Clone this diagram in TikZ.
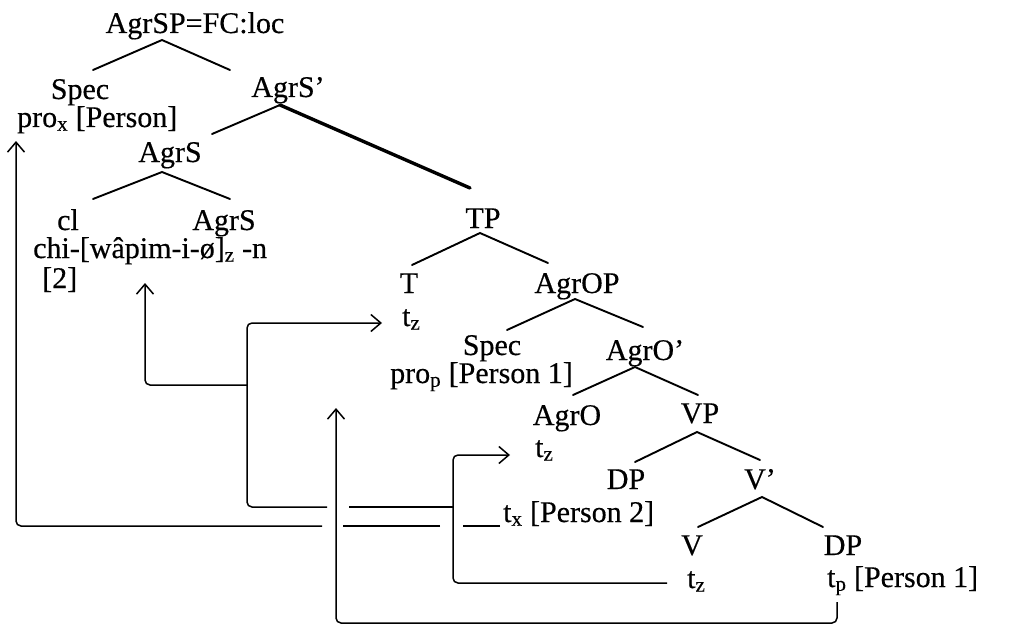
\documentclass[tikz,border=0pt]{standalone}
\usepackage{fontspec}
\setmainfont{Liberation Serif}[FakeBold=0.4]
\usetikzlibrary{arrows.meta,calc}
\begin{document}
\begin{tikzpicture}[x=1pt,y=-1pt,
  every node/.style={font=\fontsize{30}{34}\selectfont, inner sep=0pt},
  cat/.style={anchor=base},
  lft/.style={anchor=base west},
  branch/.style={line width=1.9pt, line cap=round},
  heavy/.style={line width=3.4pt, line cap=round},
  mv/.style={line width=1.5pt, rounded corners=5pt},
  tip/.style={-{Straight Barb[length=10pt,width=17pt]}}]
\useasboundingbox (0,0) rectangle (1013,626);
% tree labels
\node[cat] (agrsp) at (195,33) {AgrSP=FC:loc};
\node[cat] (spec1) at (80,99) {Spec};
\node[lft] (prox) at (17,127) {pro\textsubscript{x} [Person]};
\node[cat] (agrsbar) at (288,97) {AgrS’};
\node[cat] (agrs1) at (170,162) {AgrS};
\node[cat] (cl) at (68,230) {cl};
\node[cat] (agrs2) at (224,230) {AgrS};
\node[lft] (chi) at (33,258) {chi-[wâpim-i-ø]\textsubscript{z} -n};
\node[lft] (two) at (42,288) {[2]};
\node[cat] (tp) at (483,228) {TP};
\node[cat] (t) at (409,293) {T};
\node[lft] (tzT) at (402,326) {t\textsubscript{z}};
\node[cat] (agrop) at (577,293) {AgrOP};
\node[cat] (spec2) at (492,355) {Spec};
\node[lft] (prop) at (390,383) {pro\textsubscript{p} [Person 1]};
\node[cat] (agrobar) at (645,360) {AgrO’};
\node[cat] (agro) at (567,425) {AgrO};
\node[lft] (tzO) at (535,457) {t\textsubscript{z}};
\node[cat] (vp) at (700,423) {VP};
\node[cat] (dp1) at (626,489) {DP};
\node[cat] (vbar) at (760,489) {V’};
\node[lft] (tx) at (503,522) {t\textsubscript{x} [Person 2]};
\node[cat] (v) at (692,555) {V};
\node[cat] (dp2) at (843,555) {DP};
\node[lft] (tzV) at (687,588) {t\textsubscript{z}};
\node[lft] (tp1) at (827,587) {t\textsubscript{p} [Person 1]};
% branches
\draw[branch] ([shift={(13,-29)}]spec1.base) -- ([shift={(-33,7)}]agrsp.base) -- ([shift={(-58,-27)}]agrsbar.base);
\draw[branch] ([shift={(42,-28)}]agrs1.base) -- ([shift={(-8,8)}]agrsbar.base);
\draw[heavy] ([shift={(-8,8)}]agrsbar.base) -- ([shift={(-13,-40)}]tp.base);
\draw[branch] ([shift={(25,-31)}]cl.base) -- ([shift={(-8,10)}]agrs1.base) -- ([shift={(6,-31)}]agrs2.base);
\draw[branch] ([shift={(3,-28)}]t.base) -- ([shift={(-3,5)}]tp.base) -- ([shift={(-29,-30)}]agrop.base);
\draw[branch] ([shift={(15,-25)}]spec2.base) -- ([shift={(-2,6)}]agrop.base) -- ([shift={(-2,-33)}]agrobar.base);
\draw[branch] ([shift={(6,-30)}]agro.base) -- ([shift={(-10,7)}]agrobar.base) -- ([shift={(-2,-28)}]vp.base);
\draw[branch] ([shift={(9,-27)}]dp1.base) -- ([shift={(-3,9)}]vp.base) -- ([shift={(0,-29)}]vbar.base);
\draw[branch] ([shift={(6,-28)}]v.base) -- ([shift={(2,8)}]vbar.base) -- ([shift={(-20,-28)}]dp2.base);
% movement paths
\coordinate (jC) at (453,455);
\coordinate (jB) at (453,507);
\coordinate (cB) at (247,507);
\coordinate (bB) at (247,385);
\coordinate (cD) at (336,623);
% path A: t_x -> pro_x
\draw[mv] ([shift={(-3,4)}]tx.base west) -- (463,526);
\draw[mv] (440,526) -- (343,526);
\draw[mv,tip] (322,526) -| ([shift={(-1,14)}]prox.base west);
% path C: V t_z -> AgrO t_z
\draw[mv,tip] ([shift={(-20,-5)}]tzV.base west) -| (jC) -- ([shift={(-25,-2)}]tzO.base west);
% path B: -> T t_z and -> AgrS
\draw[mv] (jB) -- (349,507);
\draw[mv,tip] (327,507) -- (cB) |- ([shift={(-20,-3)}]tzT.base west);
\draw[mv,tip] (bB) -| ([shift={(112,25)}]chi.base west);
% path D: t_p -> pro_p
\draw[mv,tip] ([shift={(10,15)}]tp1.base west) |- (cD) -- ([shift={(-54,25)}]prop.base west);
\end{tikzpicture}
\end{document}
